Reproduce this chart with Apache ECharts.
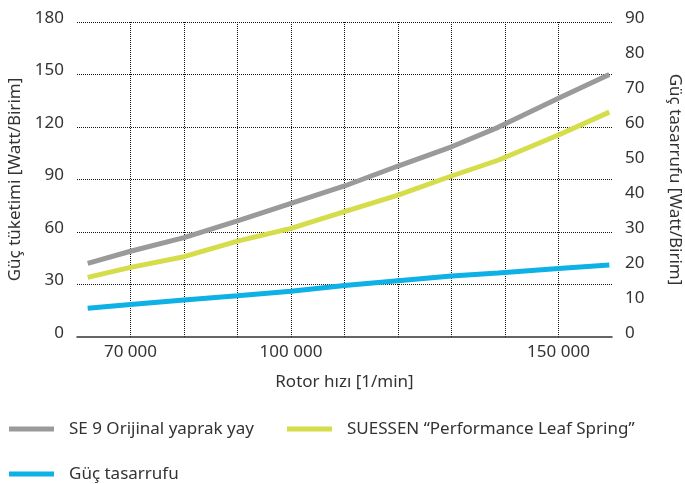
<!DOCTYPE html>
<html>
<head>
<meta charset="utf-8">
<script src="https://cdn.jsdelivr.net/npm/echarts@6/dist/echarts.min.js"></script>
<style>
  html, body { margin: 0; padding: 0; background: #ffffff; }
  #chart { width: 685px; height: 484px; }
</style>
</head>
<body>
<div id="chart"></div>
<script>
// Rotor speed samples [1/min]
var rotorSpeed = [62000, 70000, 80000, 90000, 100000, 110000, 120000, 130000, 138700, 150000, 159500];
// Power consumption [Watt/Birim], left axis
var originalSpring = [42.1, 49.0, 56.8, 66.4, 76.4, 86.3, 97.7, 108.7, 119.8, 136.4, 150.0];
var performanceSpring = [34.1, 39.8, 45.9, 54.8, 62.1, 71.6, 81.1, 92.0, 101.0, 115.4, 128.5];
// Power saving [Watt/Birim], right axis
var powerSaving = [8.2, 9.3, 10.6, 11.8, 13.1, 14.7, 16.1, 17.4, 18.3, 19.6, 20.6];

var xLabelValues = [70000, 100000, 150000];
var seriesNames = ['SE 9 Orijinal yaprak yay', 'SUESSEN \u201CPerformance Leaf Spring\u201D', 'Güç tasarrufu'];

function pairs(xs, ys) {
  return xs.map(function (x, i) { return [x, ys[i]]; });
}
function fmtThousands(v) {
  return String(v).replace(/\B(?=(\d{3})+(?!\d))/g, ' ');
}

var FONT = 'Noto Sans';
var TEXT = '#333333';
var GRID_LINE = { show: true, lineStyle: { color: '#111111', width: 1, type: 'dotted' } };

var chart = echarts.init(document.getElementById('chart'), null, { renderer: 'canvas' });

var legendBase = {
  orient: 'horizontal',
  padding: 0,
  itemWidth: 45,
  itemHeight: 5,
  icon: 'rect',
  selectedMode: false,
  textStyle: { fontFamily: FONT, fontSize: 17, color: TEXT, lineHeight: 20, padding: [0, 0, 0, 10] }
};

var yLabel = { margin: 13, fontFamily: FONT, fontSize: 17, color: TEXT, verticalAlign: 'bottom', lineHeight: 8 };

chart.setOption({
  animation: false,
  textStyle: { fontFamily: FONT },
  grid: { left: 77, right: 73, top: 22, bottom: 147, containLabel: false, outerBoundsMode: 'none' },
  legend: [
    Object.assign({}, legendBase, { left: 9, top: 419, data: [seriesNames[0]] }),
    Object.assign({}, legendBase, { left: 287, top: 419, data: [seriesNames[1]] }),
    Object.assign({}, legendBase, { left: 9, top: 464, data: [seriesNames[2]] })
  ],
  xAxis: {
    type: 'value',
    min: 60000,
    max: 160000,
    interval: 10000,
    name: 'Rotor hızı [1/min]',
    nameLocation: 'middle',
    nameGap: 37,
    nameTextStyle: { fontFamily: FONT, fontSize: 17, color: TEXT },
    axisLine: { show: true, lineStyle: { color: '#333333', width: 1.5 } },
    axisTick: { show: false },
    axisLabel: {
      margin: 7,
      fontFamily: FONT,
      fontSize: 17,
      color: TEXT,
      showMinLabel: true,
      showMaxLabel: true,
      formatter: function (v) {
        return xLabelValues.indexOf(v) >= 0 ? fmtThousands(v) : '';
      }
    },
    splitLine: Object.assign({ showMinLine: false, showMaxLine: false }, GRID_LINE)
  },
  yAxis: [
    {
      type: 'value',
      min: 0,
      max: 180,
      interval: 30,
      name: 'Güç tüketimi [Watt/Birim]',
      nameLocation: 'middle',
      nameGap: 50,
      nameTextStyle: { fontFamily: FONT, fontSize: 17, color: TEXT },
      axisLine: { show: false },
      axisTick: { show: false },
      axisLabel: yLabel,
      splitLine: Object.assign({ showMinLine: false }, GRID_LINE)
    },
    {
      type: 'value',
      min: 0,
      max: 90,
      interval: 10,
      position: 'right',
      name: 'Güç tasarrufu [Watt/Birim]',
      nameLocation: 'middle',
      nameRotate: -90,
      nameGap: 54,
      nameTextStyle: { fontFamily: FONT, fontSize: 17, color: TEXT },
      axisLine: { show: false },
      axisTick: { show: false },
      axisLabel: yLabel,
      splitLine: { show: false }
    }
  ],
  series: [
    {
      name: seriesNames[0],
      type: 'line',
      yAxisIndex: 0,
      data: pairs(rotorSpeed, originalSpring),
      showSymbol: false,
      lineStyle: { color: '#9a9a9a', width: 5 },
      itemStyle: { color: '#9a9a9a' },
      z: 3
    },
    {
      name: seriesNames[1],
      type: 'line',
      yAxisIndex: 0,
      data: pairs(rotorSpeed, performanceSpring),
      showSymbol: false,
      lineStyle: { color: '#d6dd4b', width: 5 },
      itemStyle: { color: '#d6dd4b' },
      z: 3
    },
    {
      name: seriesNames[2],
      type: 'line',
      yAxisIndex: 1,
      data: pairs(rotorSpeed, powerSaving),
      showSymbol: false,
      lineStyle: { color: '#0eb1e6', width: 5 },
      itemStyle: { color: '#0eb1e6' },
      z: 3
    }
  ]
});
</script>
</body>
</html>
